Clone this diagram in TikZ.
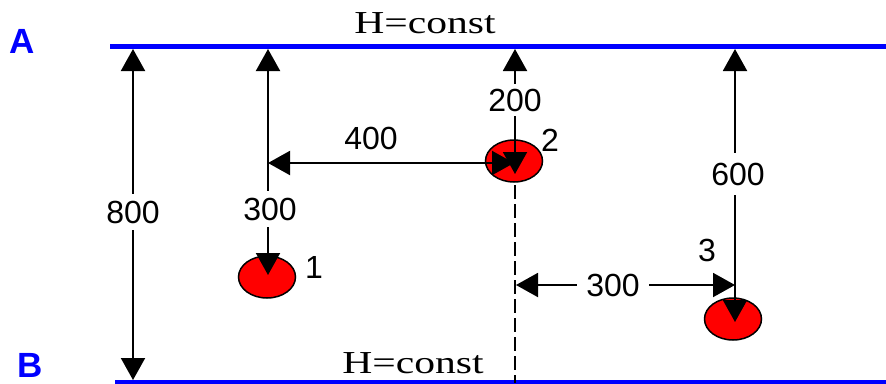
\documentclass[tikz,border=0pt]{standalone}
\usepackage{fontspec}
\setmainfont{Liberation Sans}
\newfontfamily\hfont[FakeStretch=1.3]{Liberation Serif}
\usetikzlibrary{arrows.meta,shapes.geometric}
\begin{document}
\begin{tikzpicture}[x=1pt,y=-1pt,
  dimline/.style={line width=2pt, {Triangle[width=24pt,length=22pt]}-{Triangle[width=24pt,length=22pt]}},
  numlab/.style={font=\fontsize{32}{32}\selectfont, fill=white, inner xsep=4pt, inner ysep=7pt},
  numtext/.style={font=\fontsize{32}{32}\selectfont, inner sep=0pt},
  well/.style={ellipse, draw=black, line width=1.5pt, fill=red, minimum width=57pt, minimum height=42pt, inner sep=0pt},
  level/.style={draw=blue, line width=5pt},
  hconst/.style={font=\hfont\fontsize{32}{32}\selectfont, anchor=base, inner sep=0pt},
  tag/.style={font=\bfseries\fontsize{35}{35}\selectfont, text=blue, inner sep=0pt, anchor=base}]
\useasboundingbox (0,0) rectangle (886,383);
% levels
\coordinate (A1) at (110,46);
\coordinate (A2) at (886,46);
\coordinate (B1) at (115,382);
\coordinate (B2) at (886,382);
\draw[level] (A1) -- (A2);
\draw[level] (B1) -- (B2);
\node[tag] (tagA) at (22,53) {A};
\node[tag] (tagB) at (30,377) {B};
\node[hconst] (hA) at (425,33) {H=const};
\node[hconst] (hB) at (413,373) {H=const};
% wells
\node[well] (w1) at (267,277) {};
\node[well] (w2) at (514,161) {};
\node[well] (w3) at (733,319) {};
\node[numtext] (n1) at (314,267) {1};
\node[numtext] (n2) at (550,140) {2};
\node[numtext] (n3) at (707,250) {3};
% dimension end points
\coordinate (t800) at (133,49);
\coordinate (b800) at (133,380);
\coordinate (t300) at (268,49);
\coordinate (e1) at (268,275);
\coordinate (t200) at (515,49);
\coordinate (e2) at (515,174);
\coordinate (l400) at (268,163);
\coordinate (r400) at (514,163);
\coordinate (d2) at (515,185);
\coordinate (dB) at (515,383);
\coordinate (l300) at (516,285);
\coordinate (r300) at (735,285);
\coordinate (t600) at (735,49);
\coordinate (e3) at (735,322);
% dashed axis
\draw[line width=2pt, dash pattern=on 14pt off 5pt] (d2) -- (dB);
% dimension arrows
\draw[dimline] (t800) -- (b800);
\draw[dimline] (t300) -- (e1);
\draw[dimline] (t200) -- (e2);
\draw[dimline] (l400) -- (r400);
\draw[dimline] (l300) -- (r300);
\draw[dimline] (t600) -- (e3);
% dimension labels
\node[numlab] (d800) at (133,212) {800};
\node[numlab] (dv300) at (270,209) {300};
\node[numlab, inner ysep=5pt] (d200) at (515,100) {200};
\node[numtext] (d400) at (371,138) {400};
\node[numlab, inner xsep=9pt] (dh300) at (613,285) {300};
\node[numlab, inner ysep=10pt] (d600) at (738,174) {600};
\end{tikzpicture}
\end{document}
